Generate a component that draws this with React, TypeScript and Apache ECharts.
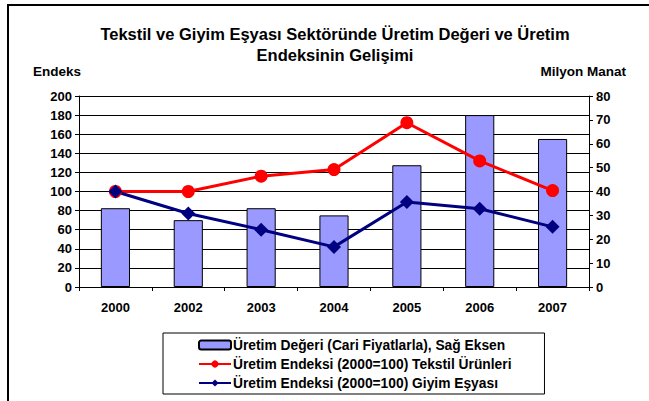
import React, { useEffect, useRef } from "react";
import * as echarts from "echarts";

const categories = ["2000", "2002", "2003", "2004", "2005", "2006", "2007"];
const productionValue = [33, 28, 33, 30, 51, 72, 62];
const textileIndex = [100, 100, 116, 123, 172, 132, 101];
const clothingIndex = [100, 77, 60, 42, 89, 82, 63];
const leftTicks = { min: 0, max: 200, interval: 20 };
const rightTicks = { min: 0, max: 80, interval: 10 };
const seriesNames = [
  "Üretim Değeri (Cari Fiyatlarla), Sağ Eksen",
  "Üretim Endeksi (2000=100) Tekstil Ürünleri",
  "Üretim Endeksi (2000=100) Giyim Eşyası",
];
const titleLines = "Tekstil ve Giyim Eşyası Sektöründe Üretim Değeri ve Üretim\nEndeksinin Gelişimi";

const FONT = "Liberation Sans, Arial, sans-serif";

export default function App() {
  const ref = useRef<HTMLDivElement>(null);
  useEffect(() => {
    const chart = echarts.init(ref.current!, undefined, { renderer: "svg" });
    const axisLabel = { color: "#000", fontWeight: "bold" as const, fontSize: 13, fontFamily: FONT };
    chart.setOption({
      animation: false,
      backgroundColor: "#fff",
      textStyle: { fontFamily: FONT },
      title: {
        text: titleLines,
        left: 330,
        textAlign: "center",
        top: 18,
        textStyle: { fontSize: 16.5, fontWeight: "bold", color: "#000", fontFamily: FONT, lineHeight: 21 },
      },
      graphic: [
        {
          type: "rect",
          shape: { x: 8, y: 5, width: 700, height: 500 },
          style: { fill: "none", stroke: "#000", lineWidth: 2 },
          silent: true,
        },
        {
          type: "text",
          x: 33,
          y: 71,
          style: { text: "Endeks", font: `bold 13.5px ${FONT}`, fill: "#000", verticalAlign: "middle" },
        },
        {
          type: "text",
          x: 626,
          y: 71,
          style: { text: "Milyon Manat", font: `bold 13.5px ${FONT}`, fill: "#000", align: "right", verticalAlign: "middle" },
        },
      ],
      grid: { left: 79, right: 60, top: 96, bottom: 114 },
      legend: {
        orient: "vertical",
        left: 163,
        top: 333,
        padding: [5, 33, 4, 35],
        borderColor: "#000",
        borderWidth: 1,
        itemWidth: 32,
        itemHeight: 9,
        itemGap: 5,
        textStyle: { color: "#000", fontWeight: "bold", fontSize: 13.8, fontFamily: FONT, padding: [0, 0, 0, -3] },
        data: seriesNames,
      },
      xAxis: {
        type: "category",
        data: categories,
        axisLine: { lineStyle: { color: "#000", width: 1 } },
        axisTick: { show: true, length: 4, lineStyle: { color: "#000" } },
        axisLabel: { ...axisLabel, margin: 14 },
      },
      yAxis: [
        {
          type: "value",
          ...leftTicks,
          axisLine: { show: true, lineStyle: { color: "#000" } },
          axisTick: { show: true, length: 4, lineStyle: { color: "#000" } },
          axisLabel: { ...axisLabel, margin: 7 },
          splitLine: { lineStyle: { color: "#000", width: 1 } },
        },
        {
          type: "value",
          ...rightTicks,
          position: "right",
          axisLine: { show: true, lineStyle: { color: "#000" } },
          axisTick: { show: true, length: 4, lineStyle: { color: "#000" } },
          axisLabel: { ...axisLabel, margin: 7 },
          splitLine: { show: false },
        },
      ],
      series: [
        {
          name: seriesNames[0],
          type: "bar",
          yAxisIndex: 1,
          data: productionValue,
          barWidth: "40%",
          itemStyle: { color: "#9999FF", borderColor: "#000", borderWidth: 1 },
        },
        {
          name: seriesNames[1],
          type: "line",
          data: textileIndex,
          symbol: "circle",
          symbolSize: 13,
          lineStyle: { color: "#FF0000", width: 3 },
          itemStyle: { color: "#FF0000" },
        },
        {
          name: seriesNames[2],
          type: "line",
          data: clothingIndex,
          symbol: "diamond",
          symbolSize: 14,
          lineStyle: { color: "#000080", width: 3 },
          itemStyle: { color: "#000080" },
        },
      ],
    });
    return () => chart.dispose();
  }, []);
  return <div ref={ref} style={{ position: "fixed", left: 0, top: 0, width: 649, height: 401 }} />;
}
